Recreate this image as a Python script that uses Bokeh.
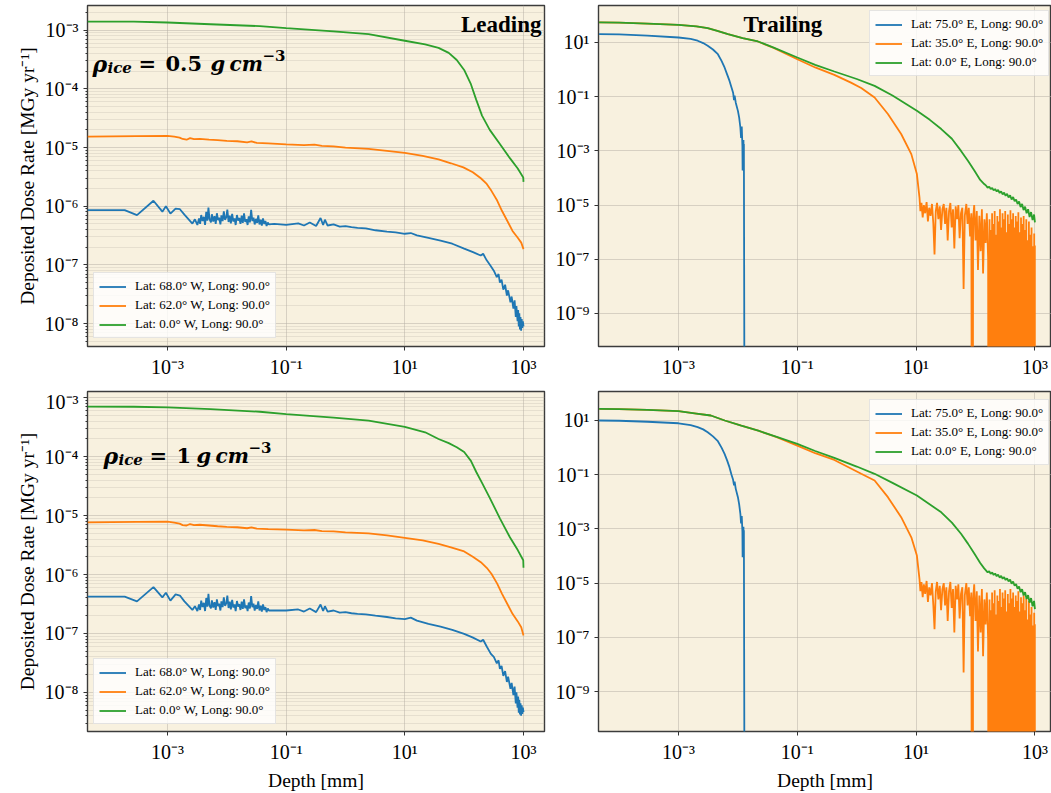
import numpy as np
from bokeh.plotting import figure
from bokeh.layouts import column, row
from bokeh.models import (Range1d, FixedTicker, CustomJSTickFormatter, Legend,
                          LegendItem, Label)
from bokeh.embed import file_html
from bokeh.resources import INLINE

BLUE, ORANGE, GREEN = "#1f77b4", "#ff7f0e", "#2ca02c"
BG = "#f8f1df"
FONT = "Liberation Serif"
MATH_FONT = "DejaVu Serif"

# ---------------- data: Leading hemisphere (depth in mm, dose rate in MGy/yr) ----------------
lead_green_x = [4.5e-5, 2.7e-4, 1e-3, 5.3e-3, 3.6e-2, 0.1, 0.63, 2.45, 10, 22, 37, 55, 75, 100,
                130, 160, 200, 270, 400, 590, 800, 990, 1000]
lead05_green_y = [1.40e-3, 1.40e-3, 1.35e-3, 1.26e-3, 1.17e-3, 1.08e-3, 9.5e-4, 8.55e-4, 6.6e-4,
                  5.7e-4, 5.0e-4, 4.1e-4, 3.1e-4, 2.1e-4, 1.2e-4, 6.5e-5, 3.5e-5, 2.0e-5, 1.15e-5,
                  6.6e-6, 4.4e-6, 3.1e-6, 2.6e-6]
lead1_green_y = [7.1e-4, 7.05e-4, 6.9e-4, 6.4e-4, 5.8e-4, 5.3e-4, 4.6e-4, 4.1e-4, 3.2e-4, 2.6e-4,
                 2.0e-4, 1.7e-4, 1.45e-4, 1.2e-4, 8.5e-5, 5.5e-5, 3.6e-5, 2.0e-5, 9.0e-6, 4.3e-6,
                 2.6e-6, 1.75e-6, 1.3e-6]

lead_orange_x = [4.5e-5, 3e-4, 1e-3, 1.3e-3, 1.6e-3, 1.8e-3, 2.1e-3, 2.4e-3, 2.8e-3, 3.5e-3,
                 5e-3, 7e-3, 1e-2, 1.5e-2, 2.2e-2, 2.6e-2, 3.2e-2, 5e-2, 0.1, 0.2,
                 0.3, 0.4, 0.63, 1.0, 2.45, 5, 10, 20, 37, 60,
                 97, 140, 191, 240, 288, 360, 435, 540, 653, 800, 916, 1000]
lead05_orange_y = [1.54e-5, 1.56e-5, 1.58e-5, 1.53e-5, 1.48e-5, 1.40e-5, 1.36e-5, 1.45e-5, 1.39e-5, 1.41e-5,
                   1.36e-5, 1.34e-5, 1.30e-5, 1.28e-5, 1.23e-5, 1.27e-5, 1.20e-5, 1.18e-5, 1.13e-5, 1.10e-5,
                   1.12e-5, 1.07e-5, 1.05e-5, 1.0e-5, 9.5e-6, 8.8e-6, 8.1e-6, 7.2e-6, 6.3e-6, 5.4e-6,
                   4.6e-6, 3.8e-6, 3.0e-6, 2.4e-6, 1.83e-6, 1.25e-6, 8.3e-7, 5.5e-7, 3.8e-7, 2.9e-7, 2.4e-7, 1.86e-7]
lead1_orange_y = [7.7e-6, 7.8e-6, 7.9e-6, 7.6e-6, 7.3e-6, 6.9e-6, 6.8e-6, 7.2e-6, 6.9e-6, 7.0e-6,
                  6.8e-6, 6.6e-6, 6.45e-6, 6.35e-6, 6.1e-6, 6.3e-6, 6.0e-6, 5.9e-6, 5.8e-6, 5.6e-6,
                  5.7e-6, 5.45e-6, 5.4e-6, 5.2e-6, 5.0e-6, 4.6e-6, 4.2e-6, 3.8e-6, 3.3e-6, 2.9e-6,
                  2.5e-6, 2.0e-6, 1.62e-6, 1.3e-6, 1.03e-6, 7.0e-7, 4.7e-7, 3.1e-7, 2.15e-7, 1.6e-7, 1.27e-7, 9.2e-8]

lead_blue_x = ([4.5e-5, 1.9e-4, 3.06e-4, 5.8e-4, 8.2e-4, 9.4e-4, 1.12e-3, 1.37e-3, 1.62e-3, 1.93e-3,
                2.63e-3, 2.9e-3, 3.19e-3]
               + [3.4e-3, 3.55e-3, 3.7e-3, 3.9e-3, 4.1e-3, 4.3e-3, 4.5e-3, 4.7e-3, 4.9e-3, 5.1e-3,
                  5.4e-3, 5.6e-3, 5.9e-3, 6.2e-3, 6.5e-3, 6.8e-3, 7.1e-3, 7.4e-3, 7.8e-3, 8.1e-3,
                  8.5e-3, 8.9e-3, 9.3e-3, 9.8e-3, 1.02e-2, 1.07e-2, 1.12e-2, 1.17e-2, 1.23e-2, 1.29e-2,
                  1.35e-2, 1.41e-2, 1.48e-2, 1.55e-2, 1.62e-2, 1.70e-2, 1.78e-2, 1.86e-2, 1.95e-2, 2.04e-2,
                  2.14e-2, 2.24e-2, 2.34e-2, 2.45e-2, 2.57e-2, 2.69e-2, 2.82e-2, 2.95e-2, 3.09e-2, 3.24e-2,
                  3.39e-2, 3.55e-2, 3.72e-2, 3.89e-2, 4.07e-2, 4.27e-2, 4.47e-2, 4.68e-2, 4.90e-2, 5.13e-2]
               + [6.3e-2, 0.1, 0.16, 0.2, 0.25, 0.32, 0.38, 0.42, 0.45, 0.5,
                  0.63, 0.8, 1.0, 1.26, 1.6, 2.2, 3.2, 5, 7, 10,
                  12.6, 16, 25, 40, 63, 100, 141, 190, 209, 240, 282, 316]
               + [355, 380, 400, 427, 457, 490, 525, 550, 603, 631, 676, 708, 741, 760, 794, 813, 832,
                  851, 871, 891, 912, 933, 955, 977, 1000])
lead05_blue_y = ([8.6e-7, 8.6e-7, 7.05e-7, 1.24e-6, 8.1e-7, 1.0e-6, 7.5e-7, 9.1e-7, 8.9e-7, 7.2e-7,
                  5.07e-7, 6.0e-7, 4.8e-7]
                 + [6.2e-7, 5.0e-7, 7.1e-7, 5.6e-7, 6.6e-7, 4.8e-7, 8.0e-7, 5.7e-7, 9.5e-7, 6.1e-7,
                    5.3e-7, 7.3e-7, 5.5e-7, 6.8e-7, 5.0e-7, 7.6e-7, 5.8e-7, 6.4e-7, 4.9e-7, 7.0e-7,
                    5.6e-7, 8.2e-7, 5.9e-7, 6.5e-7, 8.8e-7, 5.4e-7, 6.9e-7, 5.1e-7, 7.4e-7, 5.5e-7,
                    6.2e-7, 4.8e-7, 7.1e-7, 5.7e-7, 6.3e-7, 5.0e-7, 6.9e-7, 5.2e-7, 7.6e-7, 5.4e-7,
                    6.0e-7, 4.8e-7, 6.7e-7, 5.3e-7, 8.7e-7, 5.6e-7, 6.4e-7, 4.9e-7, 6.1e-7, 5.2e-7,
                    7.0e-7, 4.9e-7, 5.9e-7, 4.7e-7, 6.2e-7, 5.0e-7, 5.6e-7, 4.6e-7, 5.3e-7, 4.9e-7]
                 + [5.0e-7, 4.8e-7, 5.1e-7, 4.7e-7, 5.3e-7, 4.6e-7, 6.3e-7, 4.8e-7, 5.9e-7, 4.7e-7,
                    4.9e-7, 4.5e-7, 4.6e-7, 4.4e-7, 4.3e-7, 4.2e-7, 3.9e-7, 3.7e-7, 3.6e-7, 3.4e-7,
                    3.5e-7, 3.2e-7, 2.9e-7, 2.6e-7, 2.3e-7, 1.9e-7, 1.65e-7, 1.45e-7, 1.55e-7, 1.2e-7,
                    9.5e-8, 8.0e-8]
                 + [6.2e-8, 7.0e-8, 5.0e-8, 5.6e-8, 3.8e-8, 4.6e-8, 3.0e-8, 3.7e-8, 2.3e-8, 2.9e-8,
                    1.8e-8, 2.5e-8, 1.3e-8, 2.0e-8, 1.1e-8, 1.7e-8, 9e-9, 1.5e-8, 8e-9, 1.3e-8,
                    7.6e-9, 1.2e-8, 8.5e-9, 1.1e-8, 9e-9])
lead1_blue_y = ([4.2e-7, 4.2e-7, 3.5e-7, 6.1e-7, 4.1e-7, 4.9e-7, 3.6e-7, 4.6e-7, 4.4e-7, 3.5e-7,
                 2.5e-7, 2.9e-7, 2.4e-7]
                + [3.1e-7, 2.5e-7, 3.6e-7, 2.8e-7, 3.3e-7, 2.4e-7, 4.0e-7, 2.85e-7, 4.7e-7, 3.0e-7,
                   2.65e-7, 3.65e-7, 2.75e-7, 3.4e-7, 2.5e-7, 3.8e-7, 2.9e-7, 3.2e-7, 2.45e-7, 3.5e-7,
                   2.8e-7, 4.1e-7, 2.95e-7, 3.25e-7, 4.4e-7, 2.7e-7, 3.45e-7, 2.55e-7, 3.7e-7, 2.75e-7,
                   3.1e-7, 2.4e-7, 3.55e-7, 2.85e-7, 3.15e-7, 2.5e-7, 3.45e-7, 2.6e-7, 3.8e-7, 2.7e-7,
                   3.0e-7, 2.4e-7, 3.35e-7, 2.65e-7, 4.3e-7, 2.8e-7, 3.2e-7, 2.45e-7, 3.05e-7, 2.6e-7,
                   3.5e-7, 2.45e-7, 2.95e-7, 2.35e-7, 3.1e-7, 2.5e-7, 2.8e-7, 2.3e-7, 2.65e-7, 2.45e-7]
                + [2.45e-7, 2.45e-7, 2.55e-7, 2.35e-7, 2.65e-7, 2.3e-7, 3.1e-7, 2.4e-7, 2.9e-7, 2.35e-7,
                   2.45e-7, 2.25e-7, 2.3e-7, 2.2e-7, 2.15e-7, 2.1e-7, 2.0e-7, 1.9e-7, 1.8e-7, 1.75e-7,
                   1.85e-7, 1.65e-7, 1.45e-7, 1.3e-7, 1.15e-7, 9.8e-8, 8.5e-8, 7.3e-8, 7.8e-8, 6.0e-8,
                   4.5e-8, 4.0e-8]
                + [3.1e-8, 3.5e-8, 2.5e-8, 2.8e-8, 1.9e-8, 2.3e-8, 1.5e-8, 1.85e-8, 1.15e-8, 1.45e-8,
                   9e-9, 1.25e-8, 6.5e-9, 1.0e-8, 5.5e-9, 8.5e-9, 4.5e-9, 7.5e-9, 4.2e-9, 6.5e-9,
                   4.0e-9, 6.0e-9, 4.3e-9, 5.5e-9, 4.6e-9])

# ---------------- data: Trailing hemisphere ----------------
trail_green_end_x = [151, 160, 170, 180, 191, 202, 214, 227, 240, 255, 270, 286, 303, 321, 340, 360,
                     382, 405, 429, 455, 482, 511, 541, 574, 608, 644, 683, 724, 767, 813, 861, 912,
                     967, 1000]
trail05_green_x = [4.6e-5, 1e-4, 3e-4, 1e-3, 2e-3, 3.1e-3, 4.5e-3, 6.8e-3, 1.2e-2, 2.17e-2, 4e-2, 0.1,
                   0.2, 0.42, 1.0, 2.0, 4.0, 10.3, 17, 26.5, 40, 57, 75, 96, 120, 140] + trail_green_end_x
trail05_green_y = ([55, 54, 50, 45, 39, 34, 27, 20.4, 14.5, 10.9, 6.5, 2.8, 1.5, 0.85, 0.45, 0.25, 0.11,
                    0.030, 0.014, 6.4e-3, 2.8e-3, 1.0e-3, 4.2e-4, 1.85e-4, 8.5e-5, 6e-5]
                   + [5.2e-5, 4.4e-5, 4.8e-5, 3.9e-5, 4.3e-5, 3.5e-5, 3.9e-5, 3.2e-5, 3.6e-5, 2.8e-5,
                      3.2e-5, 2.5e-5, 2.9e-5, 2.2e-5, 2.6e-5, 1.9e-5, 2.3e-5, 1.6e-5, 2.0e-5, 1.4e-5,
                      1.6e-5, 1.1e-5, 1.35e-5, 8.5e-6, 1.1e-5, 6.5e-6, 8.8e-6, 5.0e-6, 7.0e-6, 3.6e-6,
                      5.5e-6, 2.8e-6, 4.5e-6, 2.3e-6])
trail1_green_x = [4.6e-5, 1e-4, 3e-4, 1e-3, 2e-3, 3.5e-3, 6e-3, 1.14e-2, 2.2e-2, 4.5e-2, 0.1, 0.2,
                  0.42, 1.0, 2.0, 4.0, 10.3, 26.5, 40, 57, 75, 96, 120, 140] + trail_green_end_x
trail1_green_y = ([27, 26.5, 24.5, 22, 18, 15.3, 10, 6.5, 4.2, 2.5, 1.38, 0.75, 0.42, 0.2, 0.108, 0.05,
                   0.017, 4.1e-3, 1.7e-3, 6.6e-4, 2.8e-4, 1.2e-4, 5.5e-5, 3.5e-5]
                  + [2.9e-5, 2.5e-5, 2.75e-5, 2.2e-5, 2.45e-5, 2.0e-5, 2.25e-5, 1.8e-5, 2.05e-5, 1.6e-5,
                     1.85e-5, 1.45e-5, 1.65e-5, 1.3e-5, 1.5e-5, 1.15e-5, 1.35e-5, 9.5e-6, 1.15e-5, 8.0e-6,
                     9.2e-6, 6.2e-6, 7.5e-6, 4.6e-6, 6.0e-6, 3.5e-6, 4.6e-6, 2.6e-6, 3.6e-6, 1.9e-6,
                     2.8e-6, 1.4e-6, 2.2e-6, 1.1e-6])

trail_orange_noise_x = [11.8, 12.3, 12.9, 13.5, 14.2, 15.0, 15.8, 16.6, 17.5, 18.5,
                        19.5, 20.4, 21.4, 22.5, 23.7, 25, 26.3, 27.7, 29.2, 30.7,
                        32.3, 34, 35.8, 37.7, 39.7, 41.8, 44, 46.3, 48.8, 51.4,
                        54, 56.9, 60, 63, 66, 70, 73.5, 77, 81, 85,
                        89, 91, 95, 100, 105, 110, 116, 122, 128, 134,
                        141, 148, 155, 163, 168,
                        172, 176, 181, 185, 190, 195, 200, 205, 210, 216,
                        222, 227, 233, 239, 245, 251, 258, 264, 271, 278,
                        285, 292, 300, 308, 316, 324, 332, 341, 350, 359,
                        368, 377, 387, 397, 407, 418, 429, 440, 451, 463,
                        475, 487, 500, 513, 526, 540, 554, 568, 583, 598,
                        613, 629, 646, 662, 680, 697, 715, 734, 753, 772,
                        792, 813, 834, 855, 877, 900, 923, 947, 972, 985,
                        990, 997, 1000]
trail05_orange_x = [4.6e-5, 1e-4, 3e-4, 1e-3, 2e-3, 3.1e-3, 4.5e-3, 6.8e-3, 1.2e-2, 2.17e-2, 4e-2, 0.1,
                    0.2, 0.42, 0.8, 1.19, 2.0, 3.35, 5.6, 8.3, 10.3, 11.4] + trail_orange_noise_x
trail05_orange_y = ([55, 54, 50, 45, 39, 34, 27, 20.4, 14.5, 10.9, 6.3, 2.4, 1.2, 0.64, 0.33, 0.21, 0.093,
                     0.023, 4.2e-3, 7.6e-4, 1.4e-4, 1.9e-5]
                    + [6e-6, 1.2e-5, 3.5e-6, 1.0e-5, 5e-6, 1.3e-5, 2.5e-6, 8e-6, 4e-6, 1.1e-5,
                       2e-6, 1.5e-7, 6e-6, 1.2e-5, 3e-6, 9e-6, 1.2e-6, 7e-6, 1.1e-5, 2e-6,
                       8e-6, 5e-7, 6e-6, 1.2e-5, 1.5e-6, 7e-6, 2.5e-7, 9e-6, 3e-6, 1.0e-5,
                       6e-7, 5e-6, 8e-6, 8e-9, 4e-6, 1.1e-5, 2e-6, 8e-6, 7e-7, 5e-6,
                       0, 3e-6, 1e-5, 5e-7, 6e-6, 4e-8, 4e-6, 2e-7, 7e-6, 3e-8,
                       3e-6, 4e-7, 5e-6, 1e-7, 0]
                    + [3e-6, 0, 1.2e-6, 0, 5e-6, 0, 2e-6, 0, 6e-6, 0,
                       8e-7, 0, 4e-6, 0, 2.5e-6, 0, 7e-6, 0, 1.5e-6, 0,
                       5e-6, 0, 3e-6, 0, 6e-6, 0, 1e-6, 0, 4.5e-6, 0,
                       2e-6, 0, 6.5e-6, 0, 3e-6, 0, 5e-6, 0, 1.5e-6, 0,
                       4e-6, 0, 2.5e-6, 0, 5.5e-6, 0, 1e-6, 0, 3.5e-6, 0,
                       2e-6, 0, 4e-6, 0, 1.2e-6, 0, 3e-6, 0, 5e-7, 0,
                       2.5e-6, 0, 8e-7, 0, 1.5e-6, 0, 3e-7, 0, 9e-7, 0,
                       1.5e-7, 3.2e-7, 0])
trail1_orange_x = [4.6e-5, 1e-4, 3e-4, 1e-3, 2e-3, 3.5e-3, 6e-3, 1.14e-2, 2.2e-2, 4.5e-2, 0.1, 0.2,
                   0.42, 0.8, 1.19, 2.0, 3.35, 5.6, 8.3, 10.3, 11.4] + trail_orange_noise_x
trail1_orange_y = ([27, 26.5, 24.5, 22, 18, 15.3, 10, 6.5, 4.2, 2.45, 1.19, 0.62, 0.35, 0.17, 0.108,
                    0.061, 0.0148, 2.7e-3, 4.9e-4, 1.04e-4, 1.4e-5]
                   + [5e-6, 1.1e-5, 3e-6, 9e-6, 4e-6, 1.2e-5, 2e-6, 7e-6, 3.5e-6, 1.0e-5,
                      1.5e-6, 2e-7, 5e-6, 1.1e-5, 2.5e-6, 8e-6, 1e-6, 6e-6, 1.0e-5, 1.5e-6,
                      7e-6, 4e-7, 5e-6, 1.1e-5, 1.2e-6, 6e-6, 1.5e-7, 8e-6, 2.5e-6, 9e-6,
                      5e-7, 4e-6, 7e-6, 5e-9, 3.5e-6, 1.0e-5, 1.5e-6, 7e-6, 6e-7, 4.5e-6,
                      0, 2.5e-6, 9e-6, 4e-7, 5e-6, 3e-8, 3.5e-6, 1.5e-7, 6e-6, 2e-8,
                      2.5e-6, 3e-7, 4.5e-6, 8e-8, 0]
                   + [2.5e-6, 0, 1e-6, 0, 4.5e-6, 0, 1.8e-6, 0, 5.5e-6, 0,
                      7e-7, 0, 3.5e-6, 0, 2.2e-6, 0, 6e-6, 0, 1.3e-6, 0,
                      4.5e-6, 0, 2.7e-6, 0, 5.5e-6, 0, 9e-7, 0, 4e-6, 0,
                      1.8e-6, 0, 6e-6, 0, 2.7e-6, 0, 4.5e-6, 0, 1.3e-6, 0,
                      3.5e-6, 0, 2.2e-6, 0, 5e-6, 0, 9e-7, 0, 3e-6, 0,
                      1.8e-6, 0, 3.5e-6, 0, 1e-6, 0, 2.7e-6, 0, 4.5e-7, 0,
                      2.2e-6, 0, 7e-7, 0, 1.3e-6, 0, 2.7e-7, 0, 8e-7, 0,
                      1.3e-7, 3e-7, 0])

trail_blue_x = [4.6e-5, 1e-4, 3e-4, 1e-3, 1.6e-3, 2.1e-3, 2.6e-3, 3.1e-3, 3.8e-3, 4.6e-3,
                5.3e-3, 5.96e-3, 6.6e-3, 7.2e-3, 7.8e-3, 8.3e-3, 8.6e-3, 8.8e-3, 9.2e-3, 1.0e-2,
                1.05e-2, 1.1e-2, 1.13e-2, 1.16e-2, 1.19e-2, 1.2e-2, 1.21e-2, 1.22e-2, 1.24e-2, 1.25e-2,
                1.26e-2, 1.34e-2, 1000]
trail05_blue_y = [20.4, 20, 18, 15.3, 13.5, 11.6, 9.5, 7.6, 5.5, 3.7,
                  2.1, 1.2, 0.65, 0.39, 0.22, 0.14, 0.075, 0.11, 0.06, 0.030,
                  0.017, 7.3e-3, 3e-3, 8e-3, 1.5e-3, 1.9e-4, 8e-4, 2.5e-4, 2.5e-3, 5e-4,
                  1.8e-3, 0, 0]
trail1_blue_y = [10, 9.8, 9, 7.9, 6.8, 5.7, 4.7, 3.7, 2.6, 1.72,
                 1.0, 0.59, 0.33, 0.19, 0.10, 0.065, 0.04, 0.055, 0.03, 0.0148,
                 8e-3, 3.6e-3, 1.6e-3, 3e-3, 8e-4, 9e-5, 4e-4, 1.2e-4, 1.2e-3, 2.5e-4,
                 9e-4, 0, 0]

lead_labels = ["Lat: 68.0\u00b0 W, Long: 90.0\u00b0", "Lat: 62.0\u00b0 W, Long: 90.0\u00b0",
               "Lat: 0.0\u00b0 W, Long: 90.0\u00b0"]
trail_labels = ["Lat: 75.0\u00b0 E, Long: 90.0\u00b0", "Lat: 35.0\u00b0 E, Long: 90.0\u00b0",
                "Lat: 0.0\u00b0 E, Long: 90.0\u00b0"]

x_ticks = [1e-3, 1e-1, 1e1, 1e3]
lead_y_ticks = [1e-8, 1e-7, 1e-6, 1e-5, 1e-4, 1e-3]
lead_y_minor = [m * 10.0 ** e for e in range(-9, -2) for m in range(2, 10)]
trail_y_ticks = [1e-9, 1e-7, 1e-5, 1e-3, 1e-1, 1e1]

SUP_JS = """
const m = {"-": "\\u207b", "0": "\\u2070", "1": "\\u00b9", "2": "\\u00b2", "3": "\\u00b3",
           "4": "\\u2074", "5": "\\u2075", "6": "\\u2076", "7": "\\u2077", "8": "\\u2078", "9": "\\u2079"};
const e = Math.round(Math.log10(tick));
let s = "";
for (const c of String(e)) { s += m[c]; }
return "10" + s;
"""


def pos(v):
    a = np.asarray(v, dtype=float)
    return np.where(a > 0, a, 1e-30)


def make_panel(xr, yr, fw, fh, borders, yticks, yminor, ylabel, xlabel):
    bl, br, bt, bb = borders
    p = figure(x_axis_type="log", y_axis_type="log",
               x_range=Range1d(10 ** xr[0], 10 ** xr[1]), y_range=Range1d(10 ** yr[0], 10 ** yr[1]),
               frame_width=fw, frame_height=fh,
               min_border_left=bl, min_border_right=br, min_border_top=bt, min_border_bottom=bb,
               output_backend="svg", toolbar_location=None,
               background_fill_color=BG, border_fill_color="white",
               outline_line_color="#3c3c3c", outline_line_width=1.4)
    p.xaxis.ticker = FixedTicker(ticks=x_ticks, minor_ticks=[])
    p.yaxis.ticker = FixedTicker(ticks=yticks, minor_ticks=yminor)
    for ax in (p.xaxis[0], p.yaxis[0]):
        ax.formatter = CustomJSTickFormatter(code=SUP_JS)
        ax.axis_line_color = None
        ax.major_tick_line_color = "#333333"
        ax.minor_tick_line_color = "#333333"
        ax.major_tick_out = 4
        ax.major_tick_in = 0
        ax.minor_tick_out = 2
        ax.minor_tick_in = 0
        ax.major_label_text_font = FONT
        ax.major_label_text_font_size = "20px"
        ax.major_label_text_color = "black"
        ax.major_label_standoff = 5
        ax.axis_label_text_font = FONT
        ax.axis_label_text_font_size = "19.5px"
        ax.axis_label_text_font_style = "normal"
        ax.axis_label_text_color = "black"
        ax.axis_label_standoff = 4
    if ylabel:
        p.yaxis.axis_label = ylabel
    if xlabel:
        p.xaxis.axis_label = xlabel
    p.grid.grid_line_color = "#b5b0a5"
    p.grid.grid_line_alpha = 0.5
    p.grid.grid_line_width = 1
    if yminor:
        p.ygrid.minor_grid_line_color = "#b5b0a5"
        p.ygrid.minor_grid_line_alpha = 0.35
        p.ygrid.minor_grid_line_width = 0.8
    return p


def add_lines(p, series, labels, loc):
    items = []
    for (x, y, c), lab in zip(series, labels):
        r = p.line(pos(x), pos(y), line_color=c, line_width=1.8)
        items.append(LegendItem(label=lab, renderers=[r]))
    leg = Legend(items=items, location=loc, margin=0, padding=5, spacing=3,
                 label_text_font=FONT, label_text_font_size="13px", label_text_color="black",
                 glyph_width=27, glyph_height=15, label_height=15, label_standoff=9,
                 background_fill_color="white", background_fill_alpha=0.8,
                 border_line_color="#cccccc", border_line_width=1)
    p.add_layout(leg)


def label(p, x, y, text, size, style, align="left", font=FONT):
    p.add_layout(Label(x=x, y=y, x_units="screen", y_units="screen", text=text,
                       text_font=font, text_font_size=size, text_font_style=style,
                       text_color="black", text_align=align, text_baseline="alphabetic"))


def formula(p, x0, y0, number):
    # rho_ice = <number> g cm^-3 ; x0, y0: frame offsets of the formula start and baseline
    label(p, x0, y0, "\u03c1", "22px", "bold italic", font=MATH_FONT)
    label(p, x0 + 15, y0 - 4, "ice", "15px", "bold italic", font=MATH_FONT)
    label(p, x0 + 46, y0, "=", "21px", "bold", font=MATH_FONT)
    label(p, x0 + 73, y0, number, "21px", "bold", font=MATH_FONT)
    w = 37 if len(number) > 1 else 12
    label(p, x0 + 73 + w + 8, y0, "g", "21px", "bold italic", font=MATH_FONT)
    label(p, x0 + 73 + w + 27, y0, "cm", "20px", "bold italic", font=MATH_FONT)
    label(p, x0 + 73 + w + 60, y0 + 8, "\u22123", "15px", "bold", font=MATH_FONT)


YLAB = "Deposited Dose Rate [MGy yr\u207b\u00b9]"

p_tl = make_panel((-4.348, 3.354), (-8.389, -2.58), 457, 341, (87, 3, 5, 44),
                  lead_y_ticks, lead_y_minor, YLAB, None)
add_lines(p_tl, [(lead_blue_x, lead05_blue_y, BLUE), (lead_orange_x, lead05_orange_y, ORANGE),
                 (lead_green_x, lead05_green_y, GREEN)], lead_labels, (6, 8))
label(p_tl, 454, 322, "Leading", "23px", "bold", "right")
formula(p_tl, 5, 283, "0.5")

p_tr = make_panel((-4.347, 3.279), (-10.218, 2.365), 453, 341, (51, 0, 5, 44),
                  trail_y_ticks, [], None, None)
add_lines(p_tr, [(trail_blue_x, trail05_blue_y, BLUE), (trail05_orange_x, trail05_orange_y, ORANGE),
                 (trail05_green_x, trail05_green_y, GREEN)], trail_labels, (271, 270))
label(p_tr, 145, 322, "Trailing", "23px", "bold")

p_bl = make_panel((-4.348, 3.354), (-8.665, -2.893), 457, 340, (87, 3, 1, 55),
                  lead_y_ticks, lead_y_minor, YLAB, "Depth [mm]")
add_lines(p_bl, [(lead_blue_x, lead1_blue_y, BLUE), (lead_orange_x, lead1_orange_y, ORANGE),
                 (lead_green_x, lead1_green_y, GREEN)], lead_labels, (6, 7))
formula(p_bl, 16, 276, "1")

p_br = make_panel((-4.347, 3.279), (-10.476, 2.07), 453, 340, (51, 0, 1, 55),
                  trail_y_ticks, [], None, "Depth [mm]")
add_lines(p_br, [(trail_blue_x, trail1_blue_y, BLUE), (trail1_orange_x, trail1_orange_y, ORANGE),
                 (trail1_green_x, trail1_green_y, GREEN)], trail_labels, (271, 266))

layout = column(row(p_tl, p_tr), row(p_bl, p_br))

open("out.html", "w").write(file_html(layout, INLINE))
